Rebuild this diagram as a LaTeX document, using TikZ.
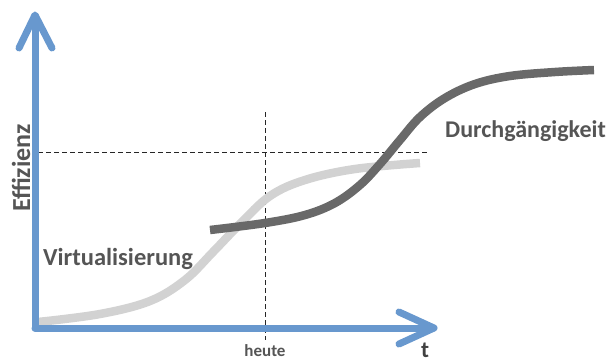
\documentclass[tikz,border=0pt]{standalone}
\usepackage{fontspec}
\setmainfont{Carlito}
\begin{document}
\begin{tikzpicture}[x=1pt,y=-1pt,
  axis/.style={draw=axisblue,line width=7pt,line cap=round,line join=round},
  guide/.style={draw=black!85,line width=1pt,dash pattern=on 4.5pt off 3.5pt},
  lbl/.style={text=txtgray,font=\bfseries,inner sep=0pt},
]
\definecolor{axisblue}{RGB}{104,152,206}
\definecolor{txtgray}{RGB}{85,85,85}
\definecolor{lightc}{RGB}{210,210,210}
\definecolor{darkc}{RGB}{105,105,105}
\useasboundingbox (0,0) rectangle (610,361);
% guides
\draw[guide] (38,152) -- (428,152);
\draw[guide] (265,112) -- (265,340);
% curves
\draw[draw=lightc,line width=8.5pt]
  plot[smooth,tension=0.6] coordinates {(38,322) (100,314) (150,301) (185,280) (213,252) (240,224) (270,196) (305,180) (355,169) (420,163)};
\draw[draw=darkc,line width=8.5pt]
  plot[smooth,tension=0.6] coordinates {(210,230) (265,223) (305,215) (335,203) (360,185) (380,164) (400,140) (420,117) (445,98) (475,84) (510,76) (555,72) (594,70)};
% axes
\draw[axis] (35,328) -- (35,16);
\draw[axis] (19,48) -- (35,15) -- (52,48);
\draw[axis] (35,328) -- (433,328);
\draw[axis] (399,312) -- (434,328) -- (399,344);
% labels
\node[lbl,font=\bfseries\fontsize{26}{26}\selectfont,rotate=90] (eff) at (21,168) {Effizienz};
\node[lbl,font=\bfseries\fontsize{24.5}{24.5}\selectfont,anchor=base west] (virt) at (43,265) {Virtualisierung};
\node[lbl,font=\bfseries\fontsize{24}{24}\selectfont,anchor=base west] (durch) at (445,137) {Durchgängigkeit};
\node[lbl,font=\bfseries\fontsize{17}{17}\selectfont,anchor=base] (heute) at (265,356) {heute};
\node[lbl,font=\bfseries\fontsize{23}{23}\selectfont,text=black!75,anchor=base] (t) at (425,357) {t};
\end{tikzpicture}
\end{document}
